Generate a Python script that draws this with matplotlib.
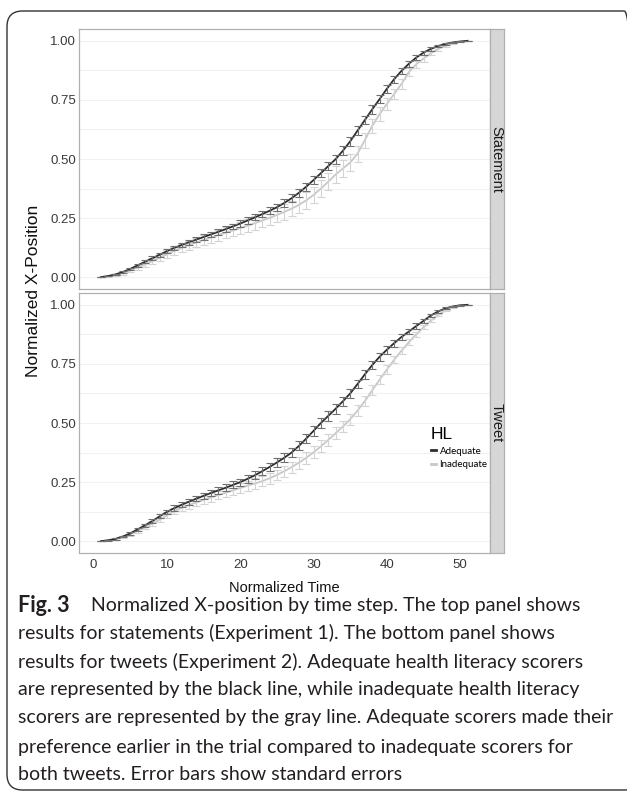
import numpy as np
import matplotlib
matplotlib.use("Agg")
import matplotlib.pyplot as plt
from matplotlib.patches import FancyBboxPatch
from matplotlib.lines import Line2D

plt.rcParams['font.family'] = ['Liberation Sans', 'DejaVu Sans']

# normalized time steps
time = np.arange(1, 52)

# Experiment 1 (statements)
stmt_adequate = [0.000, 0.005, 0.012, 0.022, 0.035, 0.050, 0.065, 0.080, 0.095, 0.110,
                 0.124, 0.136, 0.148, 0.159, 0.170, 0.181, 0.192, 0.203, 0.215, 0.227,
                 0.240, 0.253, 0.267, 0.281, 0.296, 0.314, 0.334, 0.357, 0.383, 0.411,
                 0.440, 0.470, 0.499, 0.535, 0.575, 0.620, 0.665, 0.710, 0.753, 0.797,
                 0.838, 0.873, 0.903, 0.929, 0.950, 0.966, 0.978, 0.987, 0.993, 0.997,
                 1.000]
stmt_adequate_se = [0.001, 0.002, 0.003, 0.004, 0.005, 0.006, 0.007, 0.008, 0.009, 0.009,
                    0.010, 0.010, 0.010, 0.011, 0.011, 0.011, 0.012, 0.012, 0.012, 0.013,
                    0.013, 0.013, 0.014, 0.014, 0.015, 0.015, 0.016, 0.016, 0.017, 0.017,
                    0.018, 0.018, 0.019, 0.019, 0.019, 0.019, 0.019, 0.018, 0.017, 0.016,
                    0.015, 0.014, 0.012, 0.010, 0.009, 0.007, 0.006, 0.004, 0.003, 0.002,
                    0.001]
stmt_inadequate = [0.000, 0.004, 0.010, 0.018, 0.029, 0.041, 0.054, 0.068, 0.082, 0.097,
                   0.111, 0.124, 0.136, 0.147, 0.158, 0.168, 0.178, 0.188, 0.198, 0.208,
                   0.218, 0.229, 0.240, 0.251, 0.263, 0.276, 0.290, 0.306, 0.325, 0.348,
                   0.375, 0.404, 0.434, 0.460, 0.485, 0.523, 0.580, 0.640, 0.690, 0.733,
                   0.775, 0.818, 0.868, 0.900, 0.925, 0.948, 0.966, 0.980, 0.990, 0.996,
                   1.000]
stmt_inadequate_se = [0.001, 0.003, 0.005, 0.007, 0.009, 0.011, 0.012, 0.014, 0.015, 0.016,
                      0.017, 0.018, 0.019, 0.020, 0.021, 0.022, 0.023, 0.024, 0.025, 0.026,
                      0.027, 0.028, 0.029, 0.030, 0.031, 0.032, 0.033, 0.034, 0.035, 0.035,
                      0.036, 0.036, 0.036, 0.036, 0.035, 0.034, 0.032, 0.030, 0.028, 0.026,
                      0.023, 0.021, 0.018, 0.015, 0.013, 0.010, 0.008, 0.006, 0.004, 0.002,
                      0.001]

# Experiment 2 (tweets)
tweet_adequate = [0.000, 0.004, 0.010, 0.020, 0.033, 0.050, 0.067, 0.085, 0.105, 0.124,
                  0.140, 0.154, 0.167, 0.180, 0.192, 0.204, 0.215, 0.226, 0.238, 0.250,
                  0.264, 0.279, 0.296, 0.314, 0.333, 0.353, 0.375, 0.403, 0.434, 0.467,
                  0.500, 0.530, 0.560, 0.592, 0.625, 0.665, 0.706, 0.745, 0.780, 0.810,
                  0.838, 0.864, 0.887, 0.910, 0.932, 0.955, 0.972, 0.985, 0.993, 0.998,
                  1.000]
tweet_adequate_se = [0.001, 0.002, 0.003, 0.004, 0.005, 0.006, 0.007, 0.008, 0.009, 0.010,
                     0.011, 0.011, 0.012, 0.012, 0.013, 0.013, 0.014, 0.014, 0.015, 0.015,
                     0.016, 0.016, 0.017, 0.017, 0.018, 0.018, 0.019, 0.019, 0.020, 0.020,
                     0.020, 0.020, 0.020, 0.020, 0.020, 0.019, 0.019, 0.018, 0.017, 0.016,
                     0.015, 0.014, 0.012, 0.011, 0.009, 0.007, 0.005, 0.004, 0.003, 0.002,
                     0.001]
tweet_inadequate = [0.000, 0.003, 0.009, 0.018, 0.030, 0.044, 0.059, 0.075, 0.091, 0.110,
                    0.127, 0.141, 0.153, 0.164, 0.175, 0.185, 0.195, 0.205, 0.215, 0.225,
                    0.235, 0.244, 0.254, 0.266, 0.280, 0.296, 0.313, 0.332, 0.353, 0.376,
                    0.401, 0.428, 0.456, 0.485, 0.516, 0.552, 0.593, 0.638, 0.683, 0.726,
                    0.768, 0.806, 0.842, 0.875, 0.905, 0.933, 0.957, 0.976, 0.989, 0.996,
                    1.000]
tweet_inadequate_se = [0.001, 0.003, 0.004, 0.006, 0.007, 0.008, 0.009, 0.010, 0.011, 0.012,
                       0.013, 0.014, 0.015, 0.016, 0.017, 0.018, 0.018, 0.019, 0.020, 0.020,
                       0.021, 0.022, 0.022, 0.023, 0.023, 0.024, 0.024, 0.025, 0.025, 0.025,
                       0.025, 0.025, 0.025, 0.024, 0.024, 0.023, 0.022, 0.021, 0.019, 0.018,
                       0.016, 0.015, 0.013, 0.011, 0.009, 0.007, 0.005, 0.004, 0.003, 0.002,
                       0.001]

panels = [
    ("Statement", stmt_adequate, stmt_adequate_se, stmt_inadequate, stmt_inadequate_se),
    ("Tweet", tweet_adequate, tweet_adequate_se, tweet_inadequate, tweet_inadequate_se),
]

caption_lines = [
    "Normalized X-position by time step. The top panel shows",
    "results for statements (Experiment 1). The bottom panel shows",
    "results for tweets (Experiment 2). Adequate health literacy scorers",
    "are represented by the black line, while inadequate health literacy",
    "scorers are represented by the gray line. Adequate scorers made their",
    "preference earlier in the trial compared to inadequate scorers for",
    "both tweets. Error bars show standard errors",
]

W, H = 627, 793
fig = plt.figure(figsize=(W / 100, H / 100), dpi=100)


def fx(px):
    return px / W


def fy(py):
    return 1 - py / H


black = "#2b2b2b"
grey = "#c8c8c8"
border = "#b0b0b0"

panel_left, panel_right = 79, 489.5
strip_w = 14.5
tops = [29, 293]
ph = 260

axes = []
for (name, a, a_se, i, i_se), top in zip(panels, tops):
    ax = fig.add_axes([fx(panel_left), fy(top + ph), fx(panel_right - panel_left), ph / H])
    ax.set_xlim(-2, 54)
    ax.set_ylim(-0.05, 1.05)
    for y in np.arange(0, 1.01, 0.125):
        ax.axhline(y, color="#f1f1f1", lw=0.8, zorder=0)
    ax.plot(time, i, color=grey, lw=1.3, zorder=2)
    ax.errorbar(time, i, yerr=i_se, fmt="none", ecolor="#d4d4d4", elinewidth=0.8,
                capsize=3.0, capthick=0.8, zorder=2)
    ax.plot(time, a, color=black, lw=1.3, zorder=3)
    ax.errorbar(time, a, yerr=a_se, fmt="none", ecolor="#707070", elinewidth=0.8,
                capsize=3.0, capthick=0.8, zorder=3)
    ax.set_yticks([0, 0.25, 0.5, 0.75, 1.0])
    ax.set_yticklabels(["0.00", "0.25", "0.50", "0.75", "1.00"])
    ax.set_xticks([0, 10, 20, 30, 40, 50])
    ax.tick_params(colors=border, labelcolor="#3a3a3a", labelsize=9.5, length=0, pad=2)
    ax.tick_params(axis="x", pad=4.5)
    for s in ax.spines.values():
        s.set_color(border)
        s.set_linewidth(0.9)

    # facet strip
    sx = fig.add_axes([fx(panel_right), fy(top + ph), fx(strip_w), ph / H])
    sx.set_facecolor("#d6d6d6")
    sx.set_xticks([])
    sx.set_yticks([])
    for s in sx.spines.values():
        s.set_color(border)
        s.set_linewidth(0.9)
    sx.text(0.5, 0.5, name, rotation=-90, ha="center", va="center",
            fontsize=10.5, color="#1a1a1a", transform=sx.transAxes)
    axes.append(ax)

axes[0].tick_params(labelbottom=False)
axes[1].set_xlabel("Normalized Time", fontsize=10.5, color="#111111", labelpad=7)
fig.text(fx(34), fy(291), "Normalized X-Position", rotation=90, ha="center",
         va="center", fontsize=12.5, color="#111111")

handles = [Line2D([0], [0], color=black, lw=2), Line2D([0], [0], color=grey, lw=2)]
leg = axes[1].legend(handles, ["Adequate", "Inadequate"], title="HL",
                     loc="upper left", bbox_to_anchor=(fx(423), fy(419)),
                     bbox_transform=fig.transFigure, frameon=False,
                     handlelength=0.55, handletextpad=0.35, labelspacing=0.5,
                     alignment="left", borderpad=0.3,
                     prop={"family": ["Lato", "DejaVu Sans"], "size": 7},
                     title_fontproperties={"family": "Liberation Sans", "size": 12.5})

# caption
cap_font = ["Lato", "DejaVu Sans"]
cap_size = 14.0
line_y = [605, 633, 662, 690, 718, 747, 775]
fig.text(fx(18), fy(line_y[0]), "Fig. 3", fontsize=15.5, fontweight="bold",
         family=cap_font, va="center", color="#231f20")
fig.text(fx(91), fy(line_y[0]), caption_lines[0], fontsize=cap_size,
         family=cap_font, va="center", color="#231f20")
for txt, y in zip(caption_lines[1:], line_y[1:]):
    fig.text(fx(18), fy(y), txt, fontsize=cap_size, family=cap_font,
             va="center", color="#231f20")

# rounded frame around figure and caption
frame = FancyBboxPatch((fx(7), fy(790)), fx(640 - 7), (790 - 11) / H,
                       boxstyle="round,pad=0,rounding_size=0.025",
                       transform=fig.transFigure, fill=False,
                       edgecolor="#333333", lw=1.0, mutation_aspect=W / H)
fig.patches.append(frame)

fig.savefig("out.png", dpi=100)
